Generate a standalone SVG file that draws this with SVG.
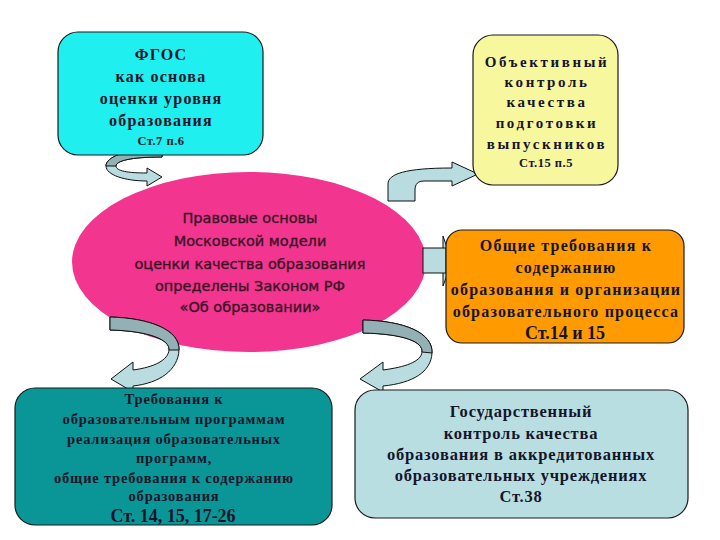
<svg xmlns="http://www.w3.org/2000/svg" width="720" height="540" viewBox="0 0 720 540">
<style>
.box{stroke:#1a1a1a;stroke-width:1.2}
.t{font-family:"Liberation Serif","Times New Roman",serif;font-weight:bold;text-anchor:middle;fill:#15152a}
.s{font-family:"DejaVu Sans","Verdana",sans-serif;text-anchor:middle;fill:#3a1426;stroke:#3a1426;stroke-width:0.35}
.af{fill:#B9DCE0;stroke:#111;stroke-width:1}
.ab{fill:#93B0B4;stroke:#111;stroke-width:1}
</style>
<rect width="720" height="540" fill="#ffffff"/>
<g id="ellipse">
<ellipse cx="249" cy="262" rx="177" ry="90" fill="#F2368F"/>
<text class="s" font-size="14.5"><tspan x="250" y="223">Правовые основы</tspan><tspan x="250" y="246">Московской модели</tspan><tspan x="250" y="269">оценки качества образования</tspan><tspan x="250" y="291">определены Законом РФ</tspan><tspan x="250" y="312">«Об образовании»</tspan></text>
</g>
<g id="connectors">
<path class="af" d="M162,149 C125,149 106,157 106,166 C106,175 125,181 147,181 L147,186 L162,177 L147,168 L147,173 C128,173 116,171 116,166 C116,161 130,157 162,157 Z"/>
<path class="ab" d="M162,149 C125,149 106,157 106,166 L116,166 C116,161 130,157 162,157 Z"/>
<path class="af" d="M388,201 L388,184 C388,174 405,168 452,168 L452,162 L478,174 L452,186 L452,181 L424,181 C418,181 415,184 415,190 L415,201 Z"/>
<path class="af" d="M443,236 L452,262 L443,286 Z"/>
<rect class="af" x="423" y="248" width="23" height="25"/>
<path class="af" d="M110,317 C150,318 180,330 179,350 C178,370 160,383 133,386 L133,392 L111,379 L133,362 L133,370 C155,367 168,360 169,350 C170,340 150,331 110,330 Z"/>
<path class="ab" d="M110,317 C150,318 180,330 179,350 L169,350 C170,340 150,331 110,330 Z"/>
<path class="af" d="M363,320 C405,321 433,333 432,353 C431,372 413,383 383,386 L383,392 L360,379 L383,362 L383,370 C405,367 421,362 422,352 C423,342 405,334 363,333 Z"/>
<path class="ab" d="M363,320 C405,321 433,333 432,353 L422,352 C423,342 405,334 363,333 Z"/>
</g>
<g id="fgos">
<rect class="box" x="58" y="32" width="205" height="123" rx="20" fill="#1FEFEF"/>
<text class="t" font-size="16" letter-spacing="1.2"><tspan x="161" y="60">ФГОС</tspan><tspan x="161" y="82">как основа</tspan><tspan x="161" y="104">оценки уровня</tspan><tspan x="161" y="126">образования</tspan></text>
<text class="t" font-size="12.5" letter-spacing="0.5"><tspan x="161" y="145">Ст.7 п.6</tspan></text>
</g>
<g id="control">
<rect class="box" x="473" y="35" width="145" height="150" rx="20" fill="#F7F79E"/>
<text class="t" font-size="15" letter-spacing="2.6"><tspan x="547" y="67">Объективный</tspan><tspan x="547" y="87">контроль</tspan><tspan x="547" y="107">качества</tspan><tspan x="547" y="128">подготовки</tspan><tspan x="547" y="149">выпускников</tspan></text>
<text class="t" font-size="12.5" letter-spacing="0.5"><tspan x="546" y="167">Ст.15 п.5</tspan></text>
</g>
<g id="general">
<rect class="box" x="446" y="230" width="238" height="113" rx="16" fill="#FF9A00"/>
<text class="t" font-size="16" letter-spacing="1.2"><tspan x="566" y="251">Общие требования к</tspan><tspan x="566" y="273">содержанию</tspan><tspan x="566" y="295">образования и организации</tspan><tspan x="566" y="317">образовательного процесса</tspan></text>
<text class="t" font-size="18"><tspan x="565" y="339">Ст.14 и 15</tspan></text>
</g>
<g id="programs">
<rect class="box" x="15" y="388" width="317" height="137" rx="20" fill="#0A9696"/>
<text class="t" font-size="14.5" letter-spacing="0.8"><tspan x="174" y="404">Требования к</tspan><tspan x="174" y="424">образовательным программам</tspan><tspan x="174" y="444">реализация образовательных</tspan><tspan x="174" y="463">программ,</tspan><tspan x="174" y="483">общие требования к содержанию</tspan><tspan x="174" y="501">образования</tspan></text>
<text class="t" font-size="18"><tspan x="173" y="522">Ст. 14, 15, 17-26</tspan></text>
</g>
<g id="state">
<rect class="box" x="355" y="390" width="333" height="128" rx="20" fill="#B9DEE2"/>
<text class="t" font-size="16.5" letter-spacing="0.8"><tspan x="521" y="417">Государственный</tspan><tspan x="521" y="439">контроль качества</tspan><tspan x="521" y="460">образования в аккредитованных</tspan><tspan x="521" y="481">образовательных учреждениях</tspan><tspan x="521" y="502">Ст.38</tspan></text>
</g>
</svg>
